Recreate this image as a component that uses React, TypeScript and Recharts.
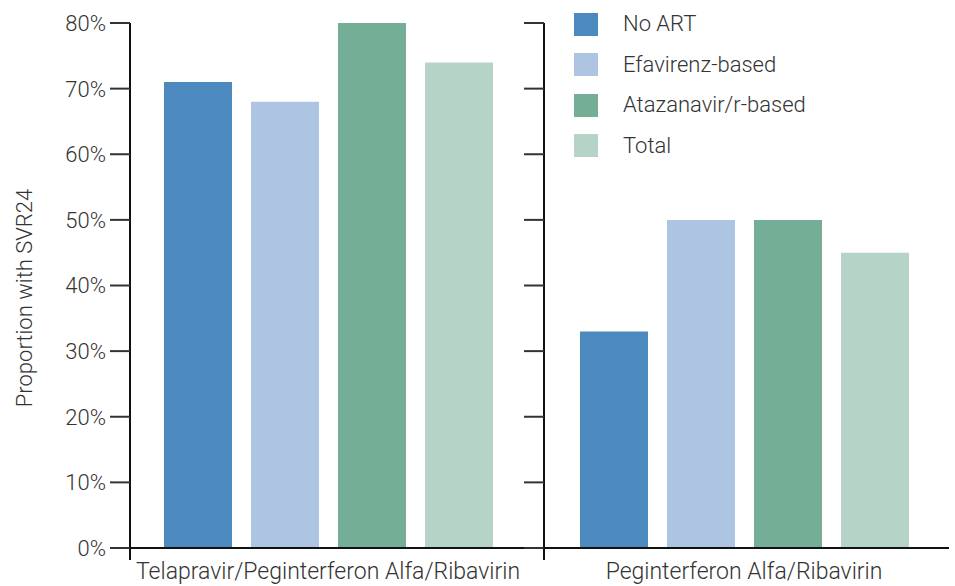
import { BarChart, Bar, XAxis, YAxis, Legend } from "recharts";

const CATEGORIES = [
  "Telapravir/Peginterferon Alfa/Ribavirin",
  "Peginterferon Alfa/Ribavirin",
];
const SERIES = ["No ART", "Efavirenz-based", "Atazanavir/r-based", "Total"];
const COLORS = ["#4c89bf", "#aec4e3", "#75ae97", "#b5d3c7"];
const NO_ART = [71, 33];
const EFAVIRENZ = [68, 50];
const ATAZANAVIR = [80, 50];
const TOTAL = [74, 45];
const Y_TICKS = [0, 10, 20, 30, 40, 50, 60, 70, 80];

const FONT = "Roboto, 'Open Sans', sans-serif";
const TEXT = "#333";
const WEIGHT = 300;

const KEYS = ["s0", "s1", "s2", "s3"];
const rows = CATEGORIES.map((name, i) => ({
  name,
  s0: NO_ART[i],
  s1: EFAVIRENZ[i],
  s2: ATAZANAVIR[i],
  s3: TOTAL[i],
}));

// y-axis tick: optional label, plus a short drop below the baseline at 0
const makeTick = (showLabel: boolean, offset: number) => (props: any) => {
  const { x, y, payload } = props;
  const ax = x + offset;
  return (
    <g>
      {showLabel && (
        <text x={x} y={y} dy="0.36em" textAnchor="end" fontSize={22} fill={TEXT} fontFamily={FONT} fontWeight={WEIGHT}>
          {payload.value}%
        </text>
      )}
      {payload.value === 0 && <line x1={ax} x2={ax} y1={y} y2={y + 12} stroke="#111" strokeWidth={2} />}
    </g>
  );
};

const LegendBox = () => (
  <div style={{ fontFamily: FONT, fontSize: 22, color: TEXT, fontWeight: WEIGHT }}>
    {SERIES.map((s, i) => (
      <div key={s} style={{ height: 40.5, display: "flex", alignItems: "center" }}>
        <span style={{ width: 24, height: 23, background: COLORS[i], display: "inline-block" }} />
        <span style={{ marginLeft: 25, lineHeight: "22px" }}>{s}</span>
      </div>
    ))}
  </div>
);

const bars = () =>
  KEYS.map((k, i) => (
    <Bar key={k} dataKey={k} name={SERIES[i]} fill={COLORS[i]} barSize={68} isAnimationActive={false} />
  ));

const xTick = { fontSize: 23, fill: TEXT, fontFamily: FONT, fontWeight: WEIGHT };

export default function App() {
  return (
    <div style={{ position: "absolute", left: 0, top: 0, width: 955, height: 586, background: "#fff" }}>
      <div style={{ position: "absolute", left: 0, top: 0 }}>
        <BarChart width={545} height={586} data={[rows[0]]} margin={{ top: 23, right: 1, bottom: 0, left: 0 }} barGap={19}>
          <XAxis
            dataKey="name"
            padding={{ left: 0, right: 18 }}
            height={38}
            tickLine={false}
            tickSize={0}
            tickMargin={15}
            axisLine={{ stroke: "#111", strokeWidth: 2 }}
            tick={xTick}
          />
          <YAxis
            width={130}
            domain={[0, 80]}
            ticks={Y_TICKS}
            interval={0}
            tickSize={20}
            tickMargin={4}
            axisLine={{ stroke: "#111", strokeWidth: 2 }}
            tickLine={{ stroke: "#333", strokeWidth: 2 }}
            tick={makeTick(true, 24)}
            label={() => (
              <text
                x={0}
                y={0}
                transform="translate(32, 298) rotate(-90)"
                textAnchor="middle"
                fontSize={22}
                fill={TEXT}
                fontFamily={FONT}
                fontWeight={WEIGHT}
              >
                Proportion with SVR24
              </text>
            )}
          />
          {bars()}
        </BarChart>
      </div>
      <div style={{ position: "absolute", left: 514, top: 0 }}>
        <BarChart width={441} height={586} data={[rows[1]]} margin={{ top: 23, right: 0, bottom: 0, left: 0 }} barGap={19}>
          <XAxis
            dataKey="name"
            padding={{ left: 0, right: 5 }}
            height={38}
            tickLine={false}
            tickSize={0}
            tickMargin={15}
            axisLine={{ stroke: "#111", strokeWidth: 2 }}
            tick={xTick}
          />
          <YAxis
            width={30}
            domain={[0, 80]}
            ticks={Y_TICKS}
            interval={0}
            tickSize={20}
            tickMargin={4}
            axisLine={{ stroke: "#111", strokeWidth: 2 }}
            tickLine={{ stroke: "#333", strokeWidth: 2 }}
            tick={makeTick(false, 24)}
          />
          <YAxis
            yAxisId="r"
            orientation="right"
            width={6}
            domain={[0, 80]}
            ticks={[0]}
            tickSize={0}
            tickMargin={0}
            axisLine={false}
            tickLine={false}
            tick={makeTick(false, 0)}
          />
          <Legend
            layout="vertical"
            align="center"
            verticalAlign="middle"
            content={<LegendBox />}
            wrapperStyle={{ top: 4, left: 60, width: 300 }}
          />
          {bars()}
        </BarChart>
      </div>
    </div>
  );
}
